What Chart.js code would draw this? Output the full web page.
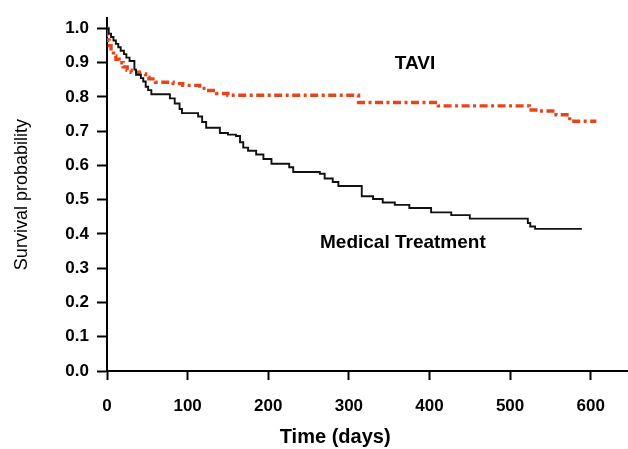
<!DOCTYPE html>
<html>
<head>
<meta charset="utf-8">
<script src="https://cdn.jsdelivr.net/npm/chart.js@4.4.0/dist/chart.umd.min.js"></script>
<style>
  html, body { margin: 0; padding: 0; background: #ffffff; }
  #wrap { width: 628px; height: 449px; position: relative; }
</style>
</head>
<body>
<div id="wrap"><canvas id="c" width="628" height="449"></canvas></div>
<script>
// ---- data ----
const medicalDays = [0, 2, 5, 8, 11, 14, 17, 21, 24, 28, 34, 36, 42, 45, 48, 51, 55, 78, 84, 90, 93, 113, 118, 123, 140, 150, 160, 165, 169, 175, 185, 194, 204, 226, 231, 264, 270, 280, 287, 316, 330, 342, 357, 375, 402, 427, 450, 522, 525, 531, 589];
const medicalSurv = [1.0, 0.985, 0.975, 0.965, 0.955, 0.945, 0.935, 0.925, 0.915, 0.905, 0.88, 0.865, 0.855, 0.845, 0.83, 0.82, 0.808, 0.796, 0.781, 0.765, 0.753, 0.743, 0.727, 0.71, 0.695, 0.69, 0.686, 0.668, 0.652, 0.643, 0.632, 0.619, 0.605, 0.595, 0.581, 0.576, 0.562, 0.552, 0.54, 0.51, 0.502, 0.492, 0.485, 0.476, 0.463, 0.455, 0.445, 0.432, 0.422, 0.415, 0.415];

const taviDays = [0, 1, 2, 3, 5, 8, 11, 15, 20, 25, 30, 40, 48, 52, 60, 82, 94, 115, 123, 136, 150, 312, 411, 524, 537, 557, 574, 607];
const taviSurv = [1.0, 0.98, 0.965, 0.95, 0.935, 0.92, 0.91, 0.9, 0.888, 0.878, 0.872, 0.867, 0.858, 0.853, 0.843, 0.839, 0.834, 0.825, 0.819, 0.81, 0.805, 0.784, 0.774, 0.762, 0.759, 0.748, 0.729, 0.729];

const xTicks = [0, 100, 200, 300, 400, 500, 600];
const yTicks = [0.0, 0.1, 0.2, 0.3, 0.4, 0.5, 0.6, 0.7, 0.8, 0.9, 1.0];

const seriesNames = ["Medical Treatment", "TAVI"];
const curveLabels = [
  { text: "TAVI", day: 382, surv: 0.898 },
  { text: "Medical Treatment", day: 367, surv: 0.374 }
];
const xTitle = "Time (days)";
const yTitle = "Survival probability";

// ---- chart ----
const toPoints = (xs, ys) => xs.map((x, i) => ({ x: x, y: ys[i] }));

const labelPlugin = {
  id: 'curveLabels',
  afterDraw(chart) {
    const ctx = chart.ctx;
    const xs = chart.scales.x, ys = chart.scales.y;
    ctx.save();
    ctx.fillStyle = '#000';
    ctx.textAlign = 'center';
    ctx.textBaseline = 'middle';
    ctx.font = 'bold 19px "Liberation Sans", Arial, sans-serif';
    curveLabels.forEach(l => {
      ctx.fillText(l.text, xs.getPixelForValue(l.day), ys.getPixelForValue(l.surv));
    });
    // x axis title
    ctx.font = 'bold 20px "Liberation Sans", Arial, sans-serif';
    ctx.fillText(xTitle, xs.getPixelForValue(283), chart.chartArea.bottom + 66);
    ctx.restore();
  }
};

new Chart(document.getElementById('c'), {
  type: 'line',
  data: {
    datasets: [
      {
        label: seriesNames[0],
        data: toPoints(medicalDays, medicalSurv),
        borderColor: '#111111',
        borderWidth: 1.9,
        pointRadius: 0,
        stepped: 'before',
        fill: false
      },
      {
        label: seriesNames[1],
        data: toPoints(taviDays, taviSurv),
        borderColor: '#E8441C',
        borderWidth: 3.4,
        borderDash: [8, 3.5, 3, 3.5],
        borderCapStyle: 'butt',
        pointRadius: 0,
        stepped: 'before',
        fill: false
      }
    ]
  },
  options: {
    responsive: false,
    animation: false,
    devicePixelRatio: 1,
    layout: { padding: { top: 11, right: 1, left: 0, bottom: 0 } },
    plugins: { legend: { display: false }, tooltip: { enabled: false } },
    scales: {
      x: {
        type: 'linear',
        min: 0,
        max: 645,
        afterBuildTicks: s => { s.ticks = xTicks.map(v => ({ value: v })); },
        afterFit: s => { s.height = 78; },
        border: { display: true, color: '#000', width: 2 },
        grid: { display: true, drawOnChartArea: false, drawTicks: true, tickLength: 9, tickWidth: 2, tickColor: '#000' },
        ticks: {
          color: '#000',
          padding: 16,
          maxRotation: 0,
          font: { family: '"Liberation Sans", Arial, sans-serif', size: 17, weight: 'bold' },
          callback: v => String(v)
        }
      },
      y: {
        type: 'linear',
        min: 0,
        max: 1.03,
        afterBuildTicks: s => { s.ticks = yTicks.map(v => ({ value: v })); },
        afterFit: s => { s.width = 107; },
        border: { display: true, color: '#000', width: 2 },
        grid: { display: true, drawOnChartArea: false, drawTicks: true, tickLength: 10, tickWidth: 2, tickColor: '#000' },
        title: {
          display: true,
          text: yTitle,
          color: '#000',
          padding: { top: 11, bottom: 0 },
          font: { family: '"Liberation Sans", Arial, sans-serif', size: 18, weight: 'normal' }
        },
        ticks: {
          color: '#000',
          padding: 8,
          font: { family: '"Liberation Sans", Arial, sans-serif', size: 17, weight: 'bold' },
          callback: v => Number(v).toFixed(1)
        }
      }
    }
  },
  plugins: [labelPlugin]
});
</script>
</body>
</html>
